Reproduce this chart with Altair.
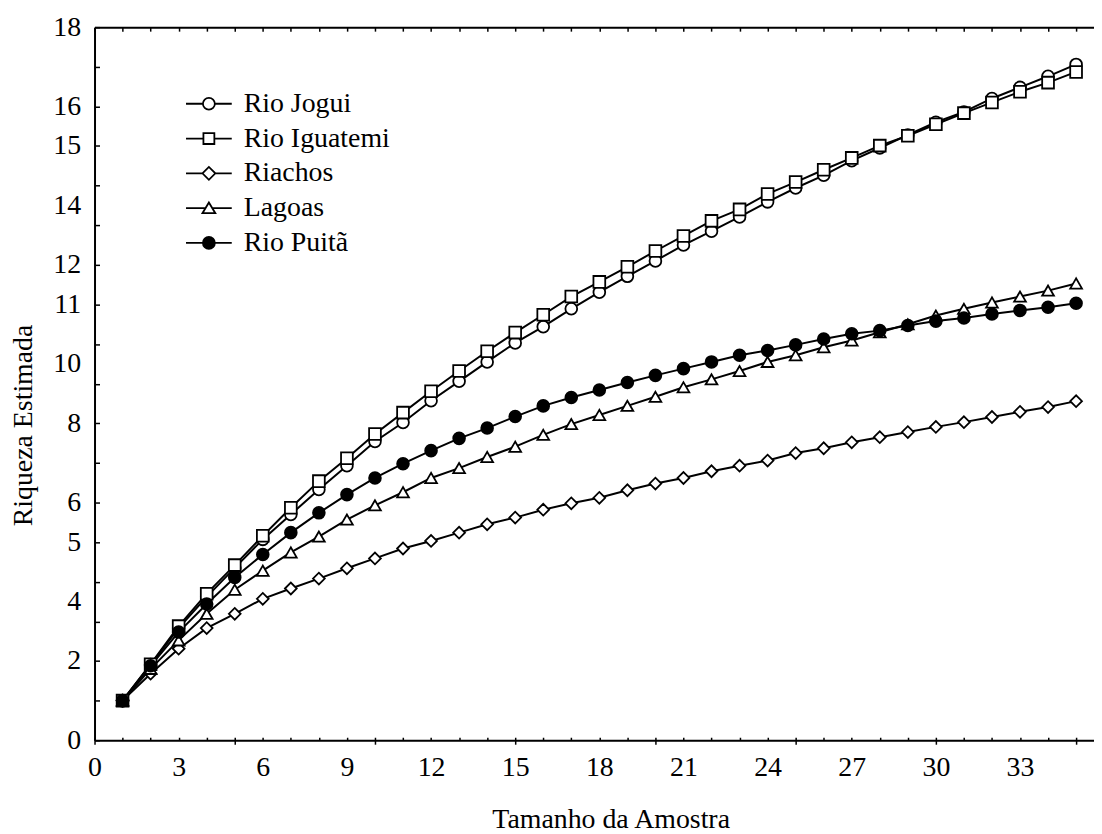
import altair as alt
import pandas as pd

FONT = "Liberation Serif, Times New Roman, Tinos, Nimbus Roman, DejaVu Serif, serif"

amostra = list(range(1, 36))
rio_jogui = [1.0, 1.91, 2.83, 3.62, 4.35, 5.07, 5.70, 6.33, 6.93, 7.54, 8.02, 8.57, 9.06, 9.55,
             10.03, 10.44, 10.89, 11.31, 11.71, 12.10, 12.50, 12.85, 13.21, 13.59, 13.94, 14.26,
             14.63, 14.95, 15.28, 15.60, 15.86, 16.20, 16.48, 16.76, 17.06]
rio_iguatemi = [1.0, 1.92, 2.88, 3.70, 4.42, 5.16, 5.87, 6.54, 7.12, 7.73, 8.27, 8.81, 9.32, 9.82,
                10.29, 10.74, 11.20, 11.57, 11.95, 12.35, 12.73, 13.11, 13.40, 13.79, 14.09, 14.40,
                14.70, 15.01, 15.26, 15.55, 15.83, 16.10, 16.37, 16.60, 16.87]
riachos = [1.0, 1.68, 2.31, 2.83, 3.19, 3.57, 3.83, 4.08, 4.34, 4.59, 4.84, 5.03, 5.24, 5.45,
           5.62, 5.82, 5.98, 6.12, 6.31, 6.48, 6.62, 6.79, 6.93, 7.06, 7.25, 7.37, 7.52, 7.65,
           7.78, 7.91, 8.03, 8.16, 8.29, 8.41, 8.56]
lagoas = [1.0, 1.80, 2.52, 3.19, 3.80, 4.28, 4.74, 5.14, 5.57, 5.93, 6.26, 6.62, 6.87, 7.15,
          7.41, 7.71, 7.98, 8.21, 8.44, 8.67, 8.91, 9.11, 9.32, 9.55, 9.72, 9.92, 10.09, 10.30,
          10.50, 10.72, 10.89, 11.05, 11.20, 11.35, 11.53]
rio_puita = [1.0, 1.88, 2.73, 3.44, 4.11, 4.69, 5.24, 5.74, 6.20, 6.62, 6.98, 7.31, 7.62, 7.88,
             8.17, 8.44, 8.65, 8.84, 9.03, 9.21, 9.38, 9.55, 9.72, 9.84, 9.98, 10.13, 10.26,
             10.34, 10.47, 10.58, 10.66, 10.76, 10.85, 10.93, 11.03]

names = ["Rio Jogui", "Rio Iguatemi", "Riachos", "Lagoas", "Rio Puitã"]
series = [rio_jogui, rio_iguatemi, riachos, lagoas, rio_puita]
plot_shapes = ["circle", "square", "diamond", "triangle-up", "circle"]
fills = ["white", "white", "white", "white", "black"]


# legend symbols: a line segment with the marker in its middle (unit = 17.5 px)
def ring(r):
    return f"M{-r},0A{r},{r} 0 1,1 {r},0A{r},{r} 0 1,1 {-r},0Z"


L = 1.314
legend_shapes = [
    f"M-{L},0H-0.343M0.343,0H{L}" + ring(0.343),
    f"M-{L},0H-0.314M0.314,0H{L}M-0.314,-0.314H0.314V0.314H-0.314Z",
    f"M-{L},0H-0.371M0.371,0H{L}M-0.371,0L0,-0.371L0.371,0L0,0.371Z",
    f"M-{L},0H-0.197M0.197,0H{L}M0,-0.33L0.37,0.29H-0.37Z",
    f"M-{L},0H-0.343M0.343,0H{L}" + "".join(ring(r) for r in [0.343, 0.28, 0.22, 0.16, 0.10, 0.045]),
]

y_label_pos = [0, 2, 3.5, 5, 6, 8, 9.5, 11, 12, 13.5, 15, 16, 18]
y_label_txt = ["0", "2", "4", "5", "6", "8", "10", "11", "12", "14", "15", "16", "18"]
x_label_vals = list(range(0, 34, 3))
x_tick_vals = list(range(0, 36))
y_tick_vals = list(range(0, 19))

df = pd.DataFrame(
    [{"Amostra": x, "Riqueza": y, "Serie": n}
     for n, s in zip(names, series) for x, y in zip(amostra, s)]
)

W, H = 1005, 717
XMAX = W / 28.2

y_expr = "".join(f"datum.value == {p} ? '{t}' : " for p, t in zip(y_label_pos, y_label_txt)) + "''"

xs = alt.Scale(domain=[0, XMAX], nice=False, zero=False)
ys = alt.Scale(domain=[0, 18], nice=False, zero=False)

common_lbl = dict(labelFont=FONT, labelFontSize=28, labelColor="black", grid=False,
                  labelFlush=False, labelOverlap=False, labelBound=False)

x_main = alt.Axis(orient="bottom", values=x_label_vals, ticks=False, tickSize=0, labelPadding=35,
                  labelBaseline="alphabetic", format="d", domainColor="black", domainWidth=2,
                  title="Tamanho da Amostra", titleFont=FONT, titleFontSize=28,
                  titleFontWeight="normal", titleColor="black", titleX=519, titleY=88,
                  titleBaseline="alphabetic", titleAlign="center", **common_lbl)
y_main = alt.Axis(orient="left", values=y_label_pos, labelExpr=y_expr, ticks=False, tickSize=0,
                  labelPadding=14, labelBaseline="middle", domainColor="black", domainWidth=2,
                  title="Riqueza Estimada", titleFont=FONT, titleFontSize=28,
                  titleFontWeight="normal", titleColor="black", titleAngle=270, titleX=-63,
                  titleY=400, titleBaseline="alphabetic", titleAlign="center", **common_lbl)
x_ticks = alt.Axis(orient="bottom", values=x_tick_vals, labels=False, domain=False, grid=False,
                   title=None, offset=-3, tickColor="black", tickWidth=1.5,
                   tickSize={"condition": {"test": "datum.value % 5 === 0", "value": 7}, "value": 3})
y_ticks = alt.Axis(orient="left", values=y_tick_vals, labels=False, domain=False, grid=False,
                   title=None, offset=-5, tickColor="black", tickWidth=1.5, tickSize=5)
x_top = alt.Axis(orient="top", labels=False, ticks=False, domain=True, domainColor="black",
                 domainWidth=2, grid=False, title=None)
x_top_ticks = alt.Axis(orient="top", values=x_tick_vals, labels=False, domain=False, grid=False,
                       title=None, offset=-4, tickColor="black", tickWidth=1.5, tickSize=4)

base = alt.Chart(df)

lines = base.mark_line(color="black", strokeWidth=2).encode(
    x=alt.X("Amostra:Q", scale=xs, axis=x_main),
    y=alt.Y("Riqueza:Q", scale=ys, axis=y_main),
    detail="Serie:N",
)

points = base.mark_point(filled=False, stroke="black", strokeWidth=1.8, size=140, opacity=1).encode(
    x=alt.X("Amostra:Q", scale=xs, axis=x_ticks),
    y=alt.Y("Riqueza:Q", scale=ys, axis=y_ticks),
    shape=alt.Shape("Serie:N", scale=alt.Scale(domain=names, range=plot_shapes), legend=None),
    fill=alt.Fill("Serie:N", scale=alt.Scale(domain=names, range=fills), legend=None),
)

leg = alt.Legend(orient="none", legendX=96.5, legendY=58.5, title=None, symbolSize=1225,
                 labelFont=FONT, labelFontSize=28, labelColor="black", labelOffset=16.5,
                 rowPadding=2, padding=0, symbolStrokeWidth=1.8,
                 labelLimit=400, symbolOpacity=1)

legend_layer = base.transform_filter("false").mark_point(
    filled=False, stroke="black", color="black", strokeWidth=1.8, opacity=1
).encode(
    x=alt.X("Amostra:Q", scale=xs, axis=x_top),
    y=alt.Y("Riqueza:Q", scale=ys, axis=None),
    shape=alt.Shape("Serie:N", scale=alt.Scale(domain=names, range=legend_shapes), legend=leg),
)

top_ticks = base.transform_filter("false").mark_point(opacity=0).encode(
    x=alt.X("Amostra:Q", scale=xs, axis=x_top_ticks),
    y=alt.Y("Riqueza:Q", scale=ys, axis=None),
)

chart = alt.layer(lines, points, legend_layer, top_ticks).resolve_scale(
    shape="independent", fill="independent"
).resolve_axis(
    x="independent", y="independent"
).resolve_legend(
    shape="independent", fill="independent"
).properties(
    width=W, height=H,
    autosize=alt.AutoSizeParams(type="none"),
    padding={"left": 87, "top": 17, "right": 0, "bottom": 90},
).configure_view(stroke=None).configure(font=FONT, background="white")

chart.save("out.html", embed_options={"renderer": "svg", "actions": False})
